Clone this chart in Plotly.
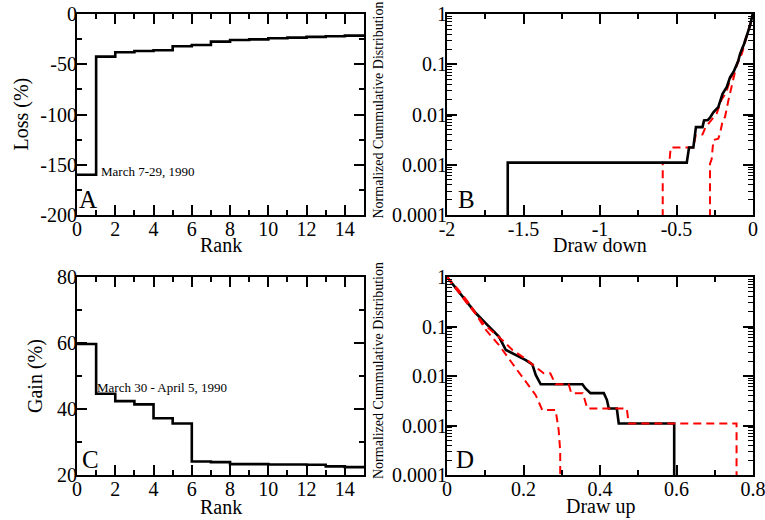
import plotly.graph_objects as go

# ---------------- data ----------------
# Panel A: loss per rank (step values on [rank-1, rank])
rank_edges = list(range(0, 16))
loss_vals = [-160, -42.4, -38.1, -36.8, -36.1, -32.1, -30.8, -27.5, -25.8, -25.2,
             -24.2, -23.5, -22.8, -22.2, -21.5]
# Panel C: gain per rank
gain_vals = [59.7, 44.6, 42.4, 41.4, 37.2, 35.6, 24.1, 23.9, 23.3, 23.3,
             23.2, 23.2, 23.1, 22.6, 22.4]

# Panel B: cumulative distribution of draw downs
b_black_x = [-1.603, -1.603, -0.433, -0.418, -0.39, -0.373, -0.33, -0.32, -0.295, -0.281,
             -0.259, -0.227, -0.199, -0.172, -0.15, -0.124, -0.096, -0.085, -0.059, -0.037,
             -0.02, -0.002, 0.0]
b_black_y = [5e-5, 0.0011, 0.0011, 0.0022, 0.0022, 0.0056, 0.0056, 0.0076, 0.0078, 0.0086,
             0.011, 0.014, 0.0257, 0.035, 0.055, 0.074, 0.117, 0.159, 0.25, 0.40,
             0.58, 0.99, 1.0]
b_red1_x = [-0.59, -0.59, -0.547, -0.538, -0.39, -0.375, -0.358, -0.33, -0.31, -0.27,
            -0.237, -0.205, -0.176, -0.15, -0.107, -0.085, -0.059, -0.037, -0.02, 0.0]
b_red1_y = [5e-5, 0.0011, 0.0011, 0.0022, 0.0022, 0.0038, 0.0038, 0.0040, 0.0056, 0.0078,
            0.0105, 0.02, 0.027, 0.048, 0.095, 0.155, 0.25, 0.40, 0.58, 1.0]
b_red2_x = [-0.281, -0.281, -0.27, -0.259, -0.227, -0.216, -0.198, -0.183, -0.161, -0.131,
            -0.111, -0.094, -0.074, -0.055, -0.035, -0.018, 0.0]
b_red2_y = [5e-5, 0.00105, 0.0013, 0.0031, 0.0033, 0.0041, 0.0076, 0.0089, 0.019, 0.047,
            0.086, 0.117, 0.159, 0.25, 0.40, 0.60, 1.0]

# Panel D: cumulative distribution of draw ups
d_black_x = [0.0, 0.0495, 0.0756, 0.106, 0.136, 0.154, 0.171, 0.206, 0.223, 0.232,
             0.245, 0.354, 0.362, 0.375, 0.41, 0.418, 0.423, 0.444, 0.449, 0.594, 0.594]
d_black_y = [1.0, 0.32, 0.185, 0.107, 0.062, 0.0335, 0.029, 0.021, 0.0172, 0.0105,
             0.0068, 0.0068, 0.0056, 0.0045, 0.0045, 0.0033, 0.0022, 0.0022, 0.0011, 0.0011, 5e-5]
d_red1_x = [0.0, 0.05, 0.1, 0.145, 0.171, 0.206, 0.225, 0.253, 0.27, 0.284,
            0.318, 0.325, 0.355, 0.367, 0.470, 0.475, 0.757, 0.757]
d_red1_y = [1.0, 0.31, 0.105, 0.053, 0.0335, 0.022, 0.0167, 0.0113, 0.0113, 0.0068,
            0.0068, 0.0045, 0.0045, 0.0022, 0.0022, 0.0011, 0.0011, 5e-5]
d_red2_x = [0.0, 0.03, 0.06, 0.0756, 0.1016, 0.136, 0.154, 0.18, 0.206, 0.232,
            0.249, 0.284, 0.292, 0.296, 0.296]
d_red2_y = [1.0, 0.55, 0.28, 0.18, 0.085, 0.042, 0.0265, 0.0143, 0.0077, 0.0041,
            0.00206, 0.00206, 0.0008, 0.0003, 5e-5]

log_vals = [1e-4, 1e-3, 1e-2, 1e-1, 1]
log_text = ["0.0001", "0.001", "0.01", "0.1", "1"]
b_x_vals = [-2, -1.5, -1, -0.5, 0]
b_x_text = ["-2", "-1.5", "-1", "-0.5", "0"]
a_y_vals = [0, -50, -100, -150, -200]
a_y_text = ["0", "-50", "-100", "-150", "-200"]

# ---------------- figure ----------------
FONT = "Liberation Serif, Times New Roman, DejaVu Serif, serif"
RED = "#ff0000"
W, H = 765, 520
fig = go.Figure()

fig.add_trace(go.Scatter(x=rank_edges, y=loss_vals + [loss_vals[-1]], mode="lines",
                         line=dict(color="black", width=2.6, shape="hv"),
                         xaxis="x", yaxis="y", showlegend=False))
fig.add_trace(go.Scatter(x=b_red1_x, y=b_red1_y, mode="lines",
                         line=dict(color=RED, width=2, dash="8px,5px"),
                         xaxis="x2", yaxis="y2", showlegend=False))
fig.add_trace(go.Scatter(x=b_red2_x, y=b_red2_y, mode="lines",
                         line=dict(color=RED, width=2, dash="8px,5px"),
                         xaxis="x2", yaxis="y2", showlegend=False))
fig.add_trace(go.Scatter(x=b_black_x, y=b_black_y, mode="lines",
                         line=dict(color="black", width=2.6),
                         xaxis="x2", yaxis="y2", showlegend=False))
fig.add_trace(go.Scatter(x=rank_edges, y=gain_vals + [gain_vals[-1]], mode="lines",
                         line=dict(color="black", width=2.6, shape="hv"),
                         xaxis="x3", yaxis="y3", showlegend=False))
fig.add_trace(go.Scatter(x=d_black_x, y=d_black_y, mode="lines",
                         line=dict(color="black", width=2.6),
                         xaxis="x4", yaxis="y4", showlegend=False))
fig.add_trace(go.Scatter(x=d_red1_x, y=d_red1_y, mode="lines",
                         line=dict(color=RED, width=2, dash="8px,5px"),
                         xaxis="x4", yaxis="y4", showlegend=False))
fig.add_trace(go.Scatter(x=d_red2_x, y=d_red2_y, mode="lines",
                         line=dict(color=RED, width=2, dash="8px,5px"),
                         xaxis="x4", yaxis="y4", showlegend=False))

tickfont = dict(family=FONT, size=20, color="black")
titlefont = dict(family=FONT, size=20, color="black")
smalltitle = dict(family=FONT, size=14, color="black")


def ax(**kw):
    base = dict(showline=True, linecolor="black", linewidth=2, mirror="allticks",
                ticks="inside", ticklen=10, tickwidth=1.5, tickcolor="black",
                showgrid=False, zeroline=False, tickfont=tickfont, automargin=False,
                ticklabelstandoff=-6, ticklabeloverflow="allow")
    base.update(kw)
    return base


dA_x = [77 / W, 364 / W]
dB_x = [447 / W, 753 / W]
dT_y = [1 - 215 / H, 1 - 14 / H]
dB_y = [1 - 475 / H, 1 - 277 / H]

minor_rank = dict(ticks="inside", ticklen=5, tickwidth=1.5, tickcolor="black", dtick=1)
minor_log = dict(ticks="inside", ticklen=5, tickwidth=1.2, tickcolor="black", dtick="D1")
XSO = -5

fig.update_layout(
    template="none",
    font=dict(family=FONT, color="black"),
    width=W, height=H,
    margin=dict(l=0, r=0, t=0, b=0),
    paper_bgcolor="white", plot_bgcolor="white",
    xaxis=ax(domain=dA_x, anchor="y", range=[0, 15], dtick=2, tick0=0,
             minor=minor_rank, ticklabelstandoff=XSO),
    yaxis=ax(domain=dT_y, anchor="x", range=[-200, 0], tickvals=a_y_vals, ticktext=a_y_text,
             minor=dict(ticks="inside", ticklen=5, tickwidth=1.5, tickcolor="black", dtick=25)),
    xaxis2=ax(domain=dB_x, anchor="y2", range=[-2, 0], tickvals=b_x_vals, ticktext=b_x_text,
              minor=dict(ticks="inside", ticklen=5, tickwidth=1.5, tickcolor="black", dtick=0.25),
              ticklabelstandoff=XSO),
    yaxis2=ax(domain=dT_y, anchor="x2", type="log", range=[-4, 0],
              tickvals=log_vals, ticktext=log_text, minor=minor_log),
    xaxis3=ax(domain=dA_x, anchor="y3", range=[0, 15], dtick=2, tick0=0,
              minor=minor_rank, ticklabelstandoff=XSO),
    yaxis3=ax(domain=dB_y, anchor="x3", range=[20, 80], dtick=20,
              minor=dict(ticks="inside", ticklen=5, tickwidth=1.5, tickcolor="black", dtick=10)),
    xaxis4=ax(domain=dB_x, anchor="y4", range=[0, 0.8], dtick=0.2, tick0=0,
              minor=dict(ticks="inside", ticklen=5, tickwidth=1.5, tickcolor="black", dtick=0.1),
              ticklabelstandoff=XSO),
    yaxis4=ax(domain=dB_y, anchor="x4", type="log", range=[-4, 0],
              tickvals=log_vals, ticktext=log_text, minor=minor_log),
)

letter = dict(family=FONT, size=25, color="black")
note = dict(family=FONT, size=13, color="black")
anns = [
    dict(text="A", xref="x domain", yref="y domain", x=0.0, y=0.0, xanchor="left", yanchor="bottom", font=letter),
    dict(text="B", xref="x2 domain", yref="y2 domain", x=0.028, y=0.0, xanchor="left", yanchor="bottom", font=letter),
    dict(text="C", xref="x3 domain", yref="y3 domain", x=0.012, y=0.0, xanchor="left", yanchor="bottom", font=letter),
    dict(text="D", xref="x4 domain", yref="y4 domain", x=0.022, y=0.0, xanchor="left", yanchor="bottom", font=letter),
    dict(text="March 7-29, 1990", xref="x", yref="y", x=1.15, y=-157, xanchor="left", yanchor="middle", font=note),
    dict(text="March 30 - April 5, 1990", xref="x3", yref="y3", x=0.95, y=46.5, xanchor="left", yanchor="middle", font=note),
    # axis titles
    dict(text="Rank", xref="x domain", yref="y domain", x=0.5, y=0, yshift=-30, xanchor="center", yanchor="middle", font=titlefont),
    dict(text="Draw down", xref="x2 domain", yref="y2 domain", x=0.5, y=0, yshift=-30, xanchor="center", yanchor="middle", font=titlefont),
    dict(text="Rank", xref="x3 domain", yref="y3 domain", x=0.5, y=0, yshift=-32, xanchor="center", yanchor="middle", font=titlefont),
    dict(text="Draw up", xref="x4 domain", yref="y4 domain", x=0.5, y=0, yshift=-31, xanchor="center", yanchor="middle", font=titlefont),
    dict(text="Loss (%)", xref="paper", yref="y domain", x=21 / W, y=0.5, xanchor="center", yanchor="middle", textangle=-90, font=titlefont),
    dict(text="Gain (%)", xref="paper", yref="y3 domain", x=35 / W, y=0.5, xanchor="center", yanchor="middle", textangle=-90, font=titlefont),
    dict(text="Normalized Cummulative Distribution", xref="paper", yref="y2 domain", x=378 / W, y=0.5, yshift=4,
         xanchor="center", yanchor="middle", textangle=-90, font=smalltitle),
    dict(text="Normalized Cummulative Distribution", xref="paper", yref="y4 domain", x=378 / W, y=0.5, yshift=5,
         xanchor="center", yanchor="middle", textangle=-90, font=smalltitle),
]
for a in anns:
    a["showarrow"] = False
fig.update_layout(annotations=anns)

fig.write_html("out.html", config={"displayModeBar": False},
               post_script="document.body.style.margin='0';")
